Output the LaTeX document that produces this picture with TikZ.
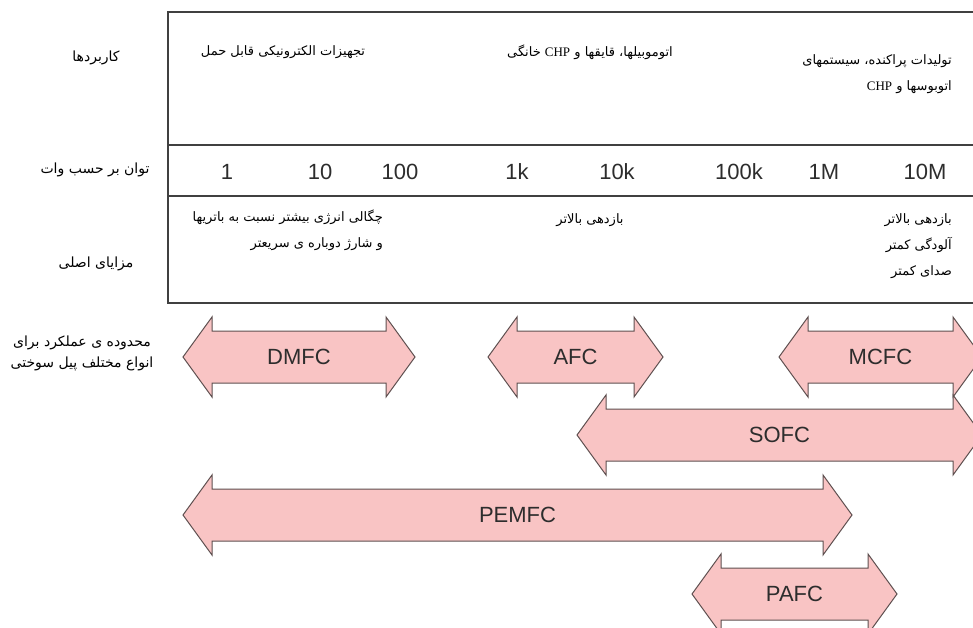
\documentclass[tikz,border=0pt]{standalone}
\usepackage{fontspec}
\setmainfont{Liberation Sans}
\newfontfamily\fa[Script=Arabic]{DejaVu Sans}
\newfontfamily\latserif{Liberation Serif}
\TeXXeTstate=1
\newcommand\rtl[1]{\beginR #1\endR}
\newcommand\chp{{\beginL\latserif CHP\endL}}
\definecolor{fcpink}{RGB}{249,196,196}
\definecolor{fcedge}{RGB}{95,80,80}
\definecolor{numgray}{RGB}{45,45,45}
\tikzset{
  tbl/.style={draw=black!75,line width=1.1pt},
  fcshape/.style={fill=fcpink,draw=fcedge,line width=1pt,line join=miter},
  fclabel/.style={font=\fontsize{22}{24}\selectfont,text=numgray,inner sep=0pt},
  num/.style={font=\fontsize{22}{24}\selectfont,text=numgray,inner sep=0pt},
  fatext/.style={font=\fa\fontsize{13}{26}\selectfont,inner sep=0pt,text=black},
  falabel/.style={font=\fa\fontsize{14}{21}\selectfont,inner sep=0pt,text=black},
}
% #1 name, #2 left tip x, #3 right tip x, #4 centre y, #5 label
\newcommand\fcarrow[5]{%
  \draw[fcshape] (#2,#4) -- ({#2+29},{#4-40}) -- ({#2+29},{#4-26}) -- ({#3-29},{#4-26})
    -- ({#3-29},{#4-40}) -- (#3,#4) -- ({#3-29},{#4+40}) -- ({#3-29},{#4+26})
    -- ({#2+29},{#4+26}) -- ({#2+29},{#4+40}) -- cycle;
  \node[fclabel] (#1) at ({(#2+#3)/2},#4) {#5};%
}
\begin{document}
\begin{tikzpicture}[x=1pt,y=-1pt]
\useasboundingbox (0,0) rectangle (973,628);
\clip (0,0) rectangle (973,628);
\fill[white] (0,0) rectangle (973,628);

% table frame
\draw[tbl] (973,12) -- (168,12) -- (168,303) -- (973,303);
\draw[tbl] (168,145) -- (973,145);
\draw[tbl] (168,196) -- (973,196);

% row labels
\node[falabel] (lapp) at (96,58) {\rtl{کاربردها}};
\node[falabel] (lpow) at (95,170) {\rtl{توان بر حسب وات}};
\node[falabel] (ladv) at (96,264) {\rtl{مزایای اصلی}};
\node[falabel,align=center] (lrange) at (82,353)
  {\rtl{محدوده ی عملکرد برای}\\\rtl{انواع مختلف پیل سوختی}};

% applications
\node[fatext] (app1) at (283,52) {\rtl{تجهیزات الکترونیکی قابل حمل}};
\node[fatext] (app2) at (590,52) {\rtl{اتوموبیلها، قایقها و \chp{} خانگی}};
\node[fatext,align=right,anchor=north east] (app3) at (952,54)
  {\rtl{تولیدات پراکنده، سیستمهای}\\\rtl{اتوبوسها و \chp}};

% power scale
\node[num] (p1) at (227,172) {1};
\node[num] (p2) at (320,172) {10};
\node[num] (p3) at (400,172) {100};
\node[num] (p4) at (517,172) {1k};
\node[num] (p5) at (617,172) {10k};
\node[num] (p6) at (739,172) {100k};
\node[num] (p7) at (824,172) {1M};
\node[num] (p8) at (925,172) {10M};

% advantages
\node[fatext,align=right,anchor=north east] (adv1) at (383,210)
  {\rtl{چگالی انرژی بیشتر نسبت به باتریها}\\\rtl{و شارژ دوباره ی سریعتر}};
\node[fatext] (adv2) at (590,220) {\rtl{بازدهی بالاتر}};
\node[fatext,align=right,anchor=north east] (adv3) at (952,213)
  {\rtl{بازدهی بالاتر}\\\rtl{آلودگی کمتر}\\\rtl{صدای کمتر}};

% fuel cell ranges
\fcarrow{dmfc}{183}{415}{357}{DMFC}
\fcarrow{afc}{488}{663}{357}{AFC}
\fcarrow{mcfc}{779}{982}{357}{MCFC}
\fcarrow{sofc}{577}{982}{435}{SOFC}
\fcarrow{pemfc}{183}{852}{515}{PEMFC}
\fcarrow{pafc}{692}{897}{594}{PAFC}
\end{tikzpicture}
\end{document}
